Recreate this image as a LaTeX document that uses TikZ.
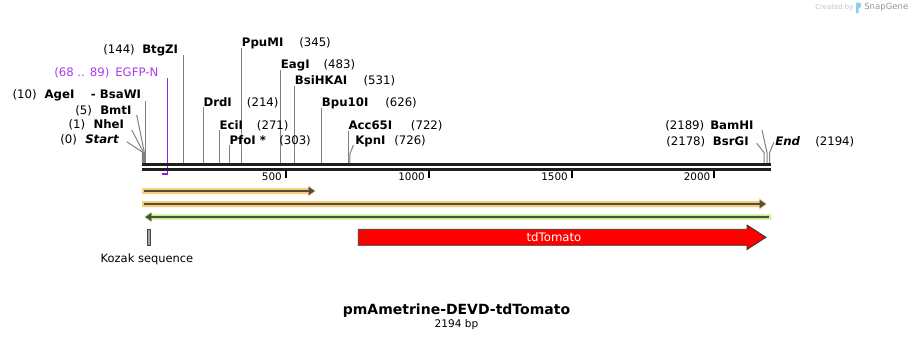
\documentclass[tikz,border=0pt]{standalone}
\usepackage{fontspec}
\setmainfont{DejaVu Sans}

\definecolor{sitegray}{RGB}{128,128,128}
\definecolor{primerviolet}{RGB}{150,30,230}
\definecolor{primertext}{RGB}{170,60,240}
\definecolor{halorange}{RGB}{250,205,125}
\definecolor{halogreen}{RGB}{190,240,140}
\definecolor{featline}{RGB}{80,78,62}
\definecolor{spinegray}{RGB}{30,30,30}
\definecolor{kozakgray}{RGB}{165,165,165}
\definecolor{logogray}{RGB}{150,150,150}
\definecolor{logolight}{RGB}{195,195,195}
\definecolor{logoblue}{RGB}{140,205,240}

\tikzset{
  site/.style={draw=sitegray, line width=0.75pt},
  enz/.style={anchor=west, inner sep=0pt, text height=6.4pt, text depth=0pt, font=\fontsize{8.8}{10}\selectfont\bfseries},
  bplbl/.style={anchor=west, inner sep=0pt, text height=6.4pt, text depth=0pt, font=\fontsize{8.8}{10}\selectfont},
  spine/.style={draw=spinegray, line width=2pt},
  scaletick/.style={draw=black, line width=1.5pt},
  ticklbl/.style={anchor=east, inner sep=0pt, text height=5.7pt, text depth=0pt, font=\fontsize{7.8}{9}\selectfont},
  halo/.style={fill=#1, draw=none},
  featcore/.style={draw=featline, line width=1.5pt},
  feattip/.style={draw=featline, fill=featline, line width=0.5pt},
}

\begin{document}
\begin{tikzpicture}[x=0.75pt,y=0.75pt,yscale=-1,xscale=1]
\useasboundingbox (0,0) rectangle (913,340);

%Created by SnapGene
\node [anchor=west, inner sep=0pt, text=logolight, font=\fontsize{5.2}{6}\selectfont] (created) at (815,7.5) {Created by};
\fill [logoblue] (856,2.5) -- (859,2.5) .. controls (862,2.5) and (862,8) .. (859,8) -- (858.5,8) -- (858.5,13) -- (856,13) -- cycle ;
\node [anchor=west, inner sep=0pt, text=logogray, font=\fontsize{6.4}{7}\selectfont] (snapgene) at (864,7.5) {SnapGene};

%Straight Lines - sites, left group
\draw [site]   (126.7,141.7) -- (142.3,152) -- (142.3,163) ;
\draw [site]   (131.7,130) -- (143.3,152) -- (143.3,163) ;
\draw [site]   (136.7,115) -- (144.4,152.7) -- (144.4,163) ;
\draw [site]   (145.5,101) -- (145.5,163) ;
\draw [site]   (183.5,55) -- (183.5,163) ;
\draw [site]   (203.5,107) -- (203.5,163) ;
\draw [site]   (219.5,130) -- (219.5,163) ;
\draw [site]   (229.5,145) -- (229.5,163) ;
\draw [site]   (241.3,47.5) -- (241.3,163) ;
\draw [site]   (280.7,69.5) -- (280.7,163) ;
\draw [site]   (294.7,85.5) -- (294.7,163) ;
\draw [site]   (321.3,107.5) -- (321.3,163) ;
\draw [site]   (348.7,130.5) -- (348.7,163) ;
\draw [site]   (353.5,145) -- (349.8,154) -- (349.8,163) ;
%Straight Lines - sites, right group
\draw [site]   (756.7,143.3) -- (764.2,152.7) -- (764.2,163) ;
\draw [site]   (762,130) -- (767,152.7) -- (767,163) ;
\draw [site]   (774,142) -- (769.6,152.7) -- (769.6,163) ;

%Primer EGFP-N
\draw [draw=primerviolet, line width=1.1pt]   (167.3,78) -- (167.3,174) -- (162,174) ;

%Straight Lines - backbone
\draw [spine]   (142,164.7) -- (770.5,164.7) ;
\draw [spine]   (142,169.3) -- (770.5,169.3) ;

%Straight Lines - ticks
\draw [scaletick]   (285.9,169.5) -- (285.9,178) ;
\draw [scaletick]   (428.7,169.5) -- (428.7,178) ;
\draw [scaletick]   (571.6,169.5) -- (571.6,178) ;
\draw [scaletick]   (714.4,169.5) -- (714.4,178) ;

% Text Node
\node [ticklbl] (t500) at (282,176.5) {500};
\node [ticklbl] (t1000) at (425,176.5) {1000};
\node [ticklbl] (t1500) at (568,176.5) {1500};
\node [ticklbl] (t2000) at (710.5,176.5) {2000};

% Text Node - left labels
\node [bplbl] (btgzpos) at (103,49.5) {(144)};
\node [enz] (btgz) at (142,49.5) {BtgZI};
\node [bplbl, text=primertext] (egfppos) at (54,72) {(68 .. 89)};
\node [bplbl, text=primertext] (egfp) at (115,72) {EGFP-N};
\node [bplbl] (agepos) at (12.3,94.5) {(10)};
\node [enz] (age) at (44.3,94.5) {AgeI};
\node [enz] (bsaw) at (90.7,94.5) {- BsaWI};
\node [bplbl] (bmtpos) at (75,110) {(5)};
\node [enz] (bmt) at (100,110) {BmtI};
\node [bplbl] (nhepos) at (68.3,124.5) {(1)};
\node [enz] (nhe) at (93.3,124.5) {NheI};
\node [bplbl] (startpos) at (60,139.5) {(0)};
\node [enz, font=\fontsize{8.8}{10}\selectfont\bfseries\itshape] (start) at (85,139.5) {Start};

% Text Node - middle labels
\node [enz] (ppum) at (241.7,42) {PpuMI};
\node [bplbl] (ppumpos) at (299,42) {(345)};
\node [enz] (eag) at (280.7,64) {EagI};
\node [bplbl] (eagpos) at (323.3,64) {(483)};
\node [enz] (bsihka) at (294.7,80) {BsiHKAI};
\node [bplbl] (bsihkapos) at (363.3,80) {(531)};
\node [enz] (drd) at (203.3,102) {DrdI};
\node [bplbl] (drdpos) at (246.7,102) {(214)};
\node [enz] (bpu) at (321.7,102) {Bpu10I};
\node [bplbl] (bpupos) at (385,102) {(626)};
\node [enz] (eci) at (219.3,125) {EciI};
\node [bplbl] (ecipos) at (256.7,125) {(271)};
\node [enz] (acc) at (348.3,125) {Acc65I};
\node [bplbl] (accpos) at (410.7,125) {(722)};
\node [enz] (pfo) at (229.3,140) {PfoI *};
\node [bplbl] (pfopos) at (279,140) {(303)};
\node [enz] (kpn) at (355,140) {KpnI};
\node [bplbl] (kpnpos) at (394,140) {(726)};

% Text Node - right labels
\node [bplbl] (bamhpos) at (665,125) {(2189)};
\node [enz] (bamh) at (710,125) {BamHI};
\node [bplbl] (bsrgpos) at (666,141) {(2178)};
\node [enz] (bsrg) at (712.7,141) {BsrGI};
\node [enz, font=\fontsize{8.8}{10}\selectfont\bfseries\itshape] (endl) at (775,141) {End};
\node [bplbl] (endpos) at (815,141) {(2194)};

%Shape: feature 1 (orange, forward)
\fill [halo=halorange]   (142,188) -- (308.3,188) -- (308.3,185.5) -- (316,191) -- (308.3,196.5) -- (308.3,194) -- (142,194) -- cycle ;
\draw [featcore]   (144,191) -- (309,191) ;
\filldraw [feattip]   (309,187.5) -- (314,191) -- (309,194.5) -- cycle ;

%Shape: feature 2 (orange, forward)
\fill [halo=halorange]   (142,201) -- (759.3,201) -- (759.3,198) -- (767,204) -- (759.3,210) -- (759.3,207) -- (142,207) -- cycle ;
\draw [featcore]   (144,204) -- (760,204) ;
\filldraw [feattip]   (760,200.5) -- (765,204) -- (760,207.5) -- cycle ;

%Shape: feature 3 (green, reverse)
\fill [halo=halogreen]   (771,214.3) -- (151.7,214.3) -- (151.7,211.5) -- (144,217) -- (151.7,222.5) -- (151.7,219.7) -- (771,219.7) -- cycle ;
\draw [featcore]   (769,217) -- (151,217) ;
\filldraw [feattip]   (151,213.5) -- (146,217) -- (151,220.5) -- cycle ;

%Shape: Kozak sequence
\draw [draw={rgb,255:red,70;green,70;blue,70}, fill=kozakgray, line width=0.6pt] (146.9,229.3) rectangle (149.9,245.3) ;
\node [bplbl, anchor=center, font=\fontsize{8.6}{10}\selectfont] (kozak) at (147,258.3) {Kozak sequence};

%Shape: tdTomato
\draw [draw={rgb,255:red,50;green,50;blue,50}, fill={rgb,255:red,255;green,0;blue,0}, line width=0.6pt]   (358.3,229.3) -- (747,229.3) -- (747,225) -- (766,237.3) -- (747,249.5) -- (747,245.3) -- (358.3,245.3) -- cycle ;
\node [bplbl, anchor=center, text=white] (tdtomato) at (554,237.3) {tdTomato};

% Text Node - title
\node [inner sep=0pt, text height=7.6pt, text depth=0pt, font=\fontsize{10.5}{12}\selectfont\bfseries] (title) at (456.5,309.5) {pmAmetrine-DEVD-tdTomato};
\node [inner sep=0pt, text height=5.7pt, text depth=0pt, font=\fontsize{7.9}{9}\selectfont] (bp) at (456.5,324) {2194 bp};

\end{tikzpicture}
\end{document}
